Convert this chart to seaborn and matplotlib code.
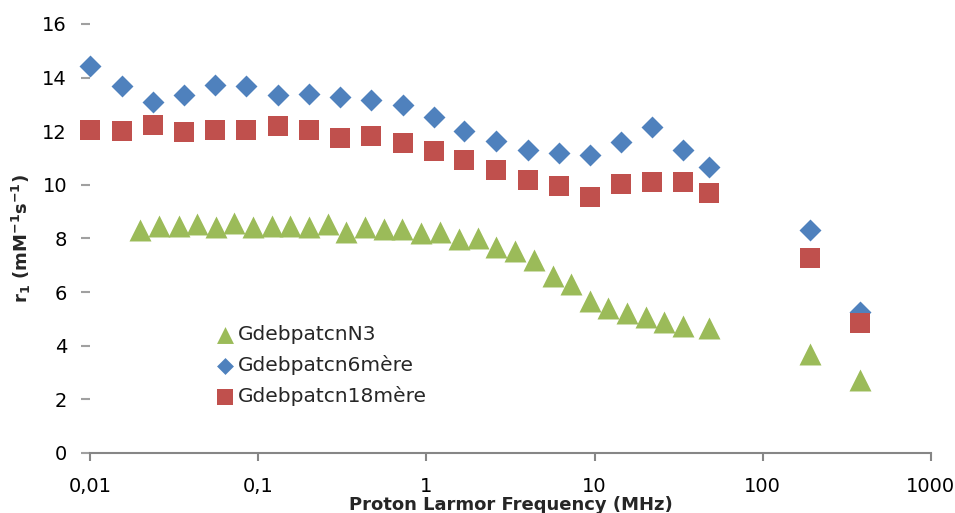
import numpy as np
import pandas as pd
import seaborn as sns
import matplotlib.pyplot as plt

# frequencies (MHz) and relaxivities
freq_n3 = [0.0199, 0.0259, 0.0337, 0.0434, 0.0562, 0.0723, 0.0933, 0.121, 0.155, 0.200,
           0.259, 0.333, 0.431, 0.559, 0.718, 0.929, 1.21, 1.56, 2.02, 2.61,
           3.36, 4.34, 5.65, 7.22, 9.46, 12.0, 15.6, 20.1, 25.8, 33.6, 47.8, 190, 378]
r1_n3 = [8.32, 8.47, 8.47, 8.53, 8.42, 8.57, 8.42, 8.47, 8.47, 8.42,
         8.53, 8.24, 8.42, 8.37, 8.37, 8.19, 8.23, 7.97, 8.02, 7.67,
         7.52, 7.21, 6.59, 6.32, 5.68, 5.40, 5.21, 5.08, 4.88, 4.74, 4.66, 3.68, 2.72]

freq_mere = [0.0100, 0.0154, 0.0236, 0.0360, 0.0552, 0.0843, 0.132, 0.201, 0.305, 0.470,
             0.724, 1.11, 1.68, 2.58, 4.01, 6.12, 9.36, 14.3, 22.0, 33.6, 48.2, 190, 378]
r1_6mere = [14.45, 13.70, 13.08, 13.35, 13.74, 13.68, 13.35, 13.39, 13.26, 13.18,
            12.98, 12.52, 12.00, 11.64, 11.30, 11.20, 11.11, 11.60, 12.17, 11.30, 10.65, 8.33, 5.25]
r1_18mere = [12.05, 11.99, 12.23, 11.96, 12.06, 12.03, 12.18, 12.03, 11.74, 11.83,
             11.56, 11.27, 10.93, 10.55, 10.18, 9.94, 9.56, 10.04, 10.12, 10.12, 9.69, 7.26, 4.85]

xticks = [0.01, 0.1, 1, 10, 100, 1000]
xtick_labels = ['0,01', '0,1', '1', '10', '100', '1000']
yticks = [0, 2, 4, 6, 8, 10, 12, 14, 16]

sns.set_style("white")
plt.rcParams['font.family'] = ['DejaVu Sans']

fig = plt.figure(figsize=(9.55, 5.13), dpi=100)
ax = fig.add_axes([0.0942, 0.117, 0.8806, 0.8363])

sns.scatterplot(x=freq_n3, y=r1_n3, marker='^', s=250, color='#9BBB59',
                linewidth=0, label='GdebpatcnN3', clip_on=False, ax=ax)
sns.scatterplot(x=freq_mere, y=r1_6mere, marker='D', s=125, color='#4F81BD',
                linewidth=0, label='Gdebpatcn6mère', clip_on=False, ax=ax)
sns.scatterplot(x=freq_mere, y=r1_18mere, marker='s', s=225, color='#C0504D',
                linewidth=0, label='Gdebpatcn18mère', clip_on=False, ax=ax)

ax.set_xscale('log')
ax.set_xlim(0.01, 1000)
ax.set_ylim(0, 16)
ax.set_xticks(xticks)
ax.set_xticklabels(xtick_labels)
ax.set_yticks(yticks)
ax.minorticks_off()

for side in ['top', 'right', 'left']:
    ax.spines[side].set_visible(False)
ax.spines['bottom'].set_color('#868686')
ax.spines['bottom'].set_linewidth(1.5)

ax.tick_params(axis='x', direction='out', length=6, width=1.5, color='#868686',
               pad=11, labelsize=14, labelcolor='black', bottom=True)
ax.tick_params(axis='y', direction='out', length=6.5, width=1.5, color='#a0a0a0',
               pad=10, labelsize=14, labelcolor='black', left=True)

ax.set_xlabel('Proton Larmor Frequency (MHz)', fontsize=13, fontweight='bold')
ax.xaxis.set_label_coords(0.5, -0.101)
ax.xaxis.label.set_va('top')
ax.set_ylabel(r'r$_\mathbf{1}$ (mM$^\mathbf{-1}$s$^\mathbf{-1}$)', fontsize=13, fontweight='bold')
ax.yaxis.set_label_coords(-0.068, 0.5)

ax.legend(loc='center left', bbox_to_anchor=(0.149, 0.2034), frameon=False,
          fontsize=14.5, markerscale=0.77, handlelength=1.0, handletextpad=0.1,
          labelspacing=0.55, borderpad=0, borderaxespad=0)

fig.savefig('out.png', dpi=100)
